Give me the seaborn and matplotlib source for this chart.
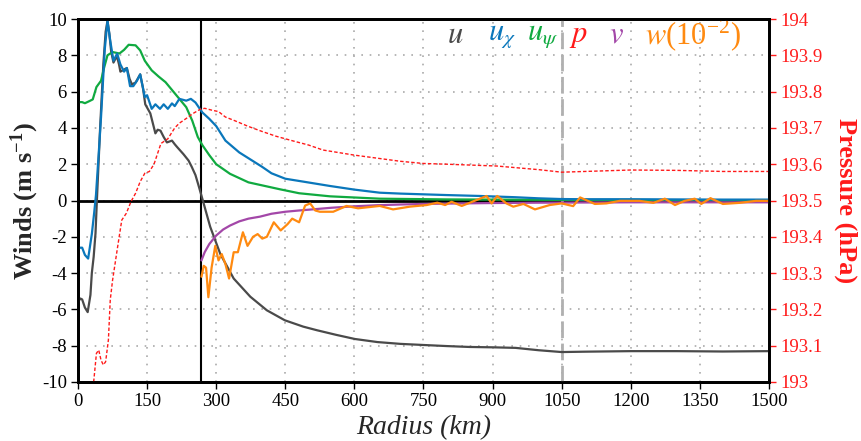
import matplotlib
matplotlib.use("Agg")
import matplotlib.pyplot as plt
import seaborn as sns

# radial wind u (total)
r_u = [0, 5, 9, 15, 21, 27, 30, 34, 38, 41, 48, 55, 60, 64, 68, 72, 77, 81, 85, 89, 92,
       99, 106, 112, 117, 125, 135, 141, 146, 157, 168, 173, 179, 186, 193, 204, 210,
       215, 229, 240, 247, 255, 262, 271, 287, 309, 338, 374, 410, 449, 489, 519, 560,
       601, 650, 700, 749, 800, 850, 901, 950, 1000, 1050, 1100, 1200, 1300, 1400, 1500]
u = [-5.6, -5.4, -5.45, -5.9, -6.15, -5.2, -4.0, -3.1, -1.8, 0.0, 4.0, 7.5, 9.3, 9.9, 9.2,
     8.2, 7.6, 7.8, 7.9, 7.5, 7.1, 7.2, 7.3, 6.7, 6.4, 6.5, 6.95, 6.2, 5.3, 4.8, 3.7, 3.9,
     3.85, 3.5, 3.2, 3.3, 3.1, 2.95, 2.55, 2.2, 1.85, 1.4, 0.8, 0.0, -1.45, -2.95, -4.3,
     -5.3, -6.05, -6.6, -6.95, -7.15, -7.4, -7.63, -7.8, -7.9, -7.96, -8.02, -8.07, -8.09,
     -8.12, -8.25, -8.35, -8.33, -8.3, -8.3, -8.32, -8.3]

# divergent part u_chi
r_uchi = [0, 5, 9, 15, 22, 30, 35, 39, 45, 50, 58, 64, 70, 77, 81, 85, 92, 100, 106, 113,
          120, 128, 135, 141, 145, 150, 160, 168, 178, 186, 195, 204, 210, 220, 235, 245,
          255, 270, 285, 300, 320, 350, 400, 420, 450, 489, 547, 600, 655, 700, 750, 800,
          872, 950, 1000, 1050, 1100, 1200, 1300, 1400, 1500]
u_chi = [-2.65, -2.6, -2.6, -3.0, -3.2, -1.85, -0.7, 0.3, 2.6, 4.6, 8.3, 9.9, 8.8, 7.7, 7.9,
         8.1, 7.5, 7.1, 7.3, 6.3, 6.3, 6.6, 6.95, 6.2, 5.7, 5.8, 5.05, 5.3, 5.05, 5.3, 5.05,
         5.35, 5.2, 5.6, 5.5, 5.6, 5.4, 4.85, 4.5, 4.1, 3.3, 2.65, 1.85, 1.5, 1.2, 1.04, 0.8,
         0.6, 0.43, 0.38, 0.34, 0.3, 0.25, 0.18, 0.12, 0.08, 0.07, 0.07, 0.06, 0.05, 0.05]

# rotational part u_psi
r_upsi = [0, 9, 15, 25, 32, 40, 50, 57, 64, 75, 90, 100, 110, 125, 135, 145, 160, 175, 190,
          205, 220, 235, 248, 260, 270, 285, 300, 330, 370, 438, 480, 547, 655, 800, 900,
          1000, 1100, 1200, 1300, 1400, 1500]
u_psi = [5.42, 5.42, 5.36, 5.48, 5.57, 6.25, 6.6, 7.35, 8.0, 8.18, 8.1, 8.3, 8.58, 8.55,
         8.27, 7.7, 7.17, 6.83, 6.52, 6.06, 5.6, 5.14, 4.4, 3.5, 3.05, 2.5, 2.0, 1.47, 1.0,
         0.62, 0.4, 0.23, 0.1, 0.06, 0.05, 0.04, 0.03, 0.03, 0.02, 0.02, 0.02]

# tangential wind v
r_v = [268, 275, 285, 300, 315, 330, 350, 370, 395, 420, 450, 480, 504, 550, 600, 650, 700,
       750, 800, 900, 1000, 1100, 1200, 1300, 1400, 1500]
v = [-3.3, -2.85, -2.4, -1.93, -1.6, -1.38, -1.15, -1.0, -0.89, -0.73, -0.62, -0.55, -0.5,
     -0.4, -0.32, -0.26, -0.22, -0.19, -0.17, -0.14, -0.12, -0.11, -0.1, -0.1, -0.1, -0.1]

# vertical wind w (x 10^-2)
r_w = [268, 273, 278, 283, 290, 298, 305, 312, 320, 328, 338, 347, 358, 368, 380, 390, 400,
       410, 425, 440, 455, 465, 480, 493, 504, 515, 525, 554, 583, 608, 655, 684, 720, 757,
       780, 797, 811, 833, 851, 887, 898, 910, 930, 945, 967, 992, 1024, 1050, 1075, 1090,
       1122, 1147, 1176, 1219, 1249, 1274, 1296, 1317, 1339, 1353, 1373, 1400, 1436, 1472,
       1500]
w = [-4.2, -3.6, -3.7, -5.33, -3.7, -2.5, -3.3, -2.95, -3.5, -4.3, -2.85, -2.85, -1.75, -2.5,
     -2.0, -1.85, -2.1, -2.0, -1.2, -1.65, -1.3, -1.0, -1.2, -0.28, -0.16, -0.55, -0.62,
     -0.62, -0.3, -0.43, -0.3, -0.49, -0.34, -0.25, -0.12, -0.25, -0.07, -0.3, -0.12, 0.25,
     -0.16, 0.25, -0.16, -0.34, -0.19, -0.49, -0.25, -0.16, -0.31, 0.17, -0.19, -0.16,
     -0.02, -0.02, -0.13, 0.1, -0.25, -0.02, 0.1, -0.19, 0.13, -0.19, -0.13, -0.02, -0.02]

# pressure p (hPa)
r_p = [34, 40, 45, 50, 55, 60, 66, 70, 75, 85, 95, 105, 115, 125, 135, 145, 155, 165, 180,
       195, 210, 220, 235, 250, 265, 275, 290, 305, 320, 340, 370, 400, 430, 470, 500, 532,
       600, 700, 750, 800, 909, 1000, 1050, 1100, 1200, 1300, 1400, 1500]
p = [193.0, 193.079, 193.088, 193.06, 193.047, 193.056, 193.116, 193.226, 193.28, 193.364,
     193.446, 193.465, 193.497, 193.52, 193.552, 193.575, 193.58, 193.6, 193.657, 193.67,
     193.7, 193.713, 193.726, 193.74, 193.751, 193.754, 193.749, 193.745, 193.73, 193.72,
     193.704, 193.69, 193.677, 193.663, 193.653, 193.639, 193.625, 193.608, 193.602, 193.6,
     193.595, 193.585, 193.578, 193.58, 193.584, 193.583, 193.58, 193.58]

x_ticks = list(range(0, 1501, 150))
y_ticks = list(range(-10, 11, 2))
p_ticks = [193.0, 193.1, 193.2, 193.3, 193.4, 193.5, 193.6, 193.7, 193.8, 193.9, 194.0]
p_labels = ["193", "193.1", "193.2", "193.3", "193.4", "193.5", "193.6", "193.7",
            "193.8", "193.9", "194"]

r_eye = 268      # black vertical marker
r_edge = 1050    # gray dashed marker

c_u, c_chi, c_psi = "#4a4a4a", "#0a77bb", "#10aa40"
c_p, c_v, c_w = "#ff1a1a", "#a347a8", "#ff8a10"

sns.set_theme(style="ticks")
plt.rcParams["font.family"] = ["Liberation Serif", "DejaVu Serif"]
plt.rcParams["mathtext.fontset"] = "stix"
plt.rcParams["axes.unicode_minus"] = False

fig = plt.figure(figsize=(8.61, 4.41), dpi=100)
ax = fig.add_axes([0.0906, 0.1338, 0.8025, 0.8231])
ax2 = ax.twinx()

ax.grid(True, color="#aaaaaa", linestyle=(0, (1, 4)), lw=1.2)
ax.axhline(0, color="black", lw=2, zorder=3)
ax.axvline(r_eye, color="black", lw=1.5, zorder=3)
ax.axvline(r_edge, color="#b0b0b0", lw=2, linestyle=(0, (6, 2)), zorder=3)

sns.lineplot(x=r_u, y=u, ax=ax, color=c_u, lw=1.6, zorder=4)
sns.lineplot(x=r_upsi, y=u_psi, ax=ax, color=c_psi, lw=1.6, zorder=4)
sns.lineplot(x=r_uchi, y=u_chi, ax=ax, color=c_chi, lw=1.6, zorder=4)
sns.lineplot(x=r_v, y=v, ax=ax, color=c_v, lw=1.6, zorder=4)
sns.lineplot(x=r_w, y=w, ax=ax, color=c_w, lw=1.6, zorder=5)
sns.lineplot(x=r_p, y=p, ax=ax2, color=c_p, lw=1.0, linestyle=(0, (2.5, 1.5)))

ax.set_xlim(0, 1500)
ax.set_ylim(-10, 10)
ax2.set_ylim(193, 194)
ax.set_xticks(x_ticks)
ax.set_yticks(y_ticks)
ax2.set_yticks(p_ticks)
ax2.set_yticklabels(p_labels)

for sp in ax.spines.values():
    sp.set_linewidth(2)
    sp.set_color("black")
for sp in ax2.spines.values():
    sp.set_linewidth(2)
    sp.set_color("black")

ax.tick_params(axis="both", direction="out", length=5, width=1, labelsize=13.5,
               colors="black", pad=3)
ax2.tick_params(axis="y", direction="out", length=5, width=1, labelsize=13.5,
                colors=c_p, pad=3)

ax.set_xlabel("Radius (km)", fontsize=20, style="italic")
ax.xaxis.set_label_coords(0.5, -0.09)
ax.set_ylabel("Winds (m s$^{\\mathregular{-1}}$)", fontsize=19, fontweight="bold")
ax.yaxis.set_label_coords(-0.054, 0.5)
ax2.set_ylabel("Pressure (hPa)", fontsize=19, fontweight="bold", color=c_p,
               rotation=270, va="bottom")
ax2.yaxis.set_label_coords(1.094, 0.5)

legend_items = [("$u$", c_u, 455), ("$u_{\\chi}$", c_chi, 502), ("$u_{\\psi}$", c_psi, 543),
                ("$p$", c_p, 578), ("$v$", c_v, 617),
                ("$w$(10$^{\\mathregular{-2}}$)", c_w, 693)]
for txt, col, px in legend_items:
    ax.text((px - 78) / 691, 0.955, txt, color=col, fontsize=22, ha="center",
            va="center", transform=ax.transAxes, zorder=6)

fig.savefig("out.png", dpi=100)
